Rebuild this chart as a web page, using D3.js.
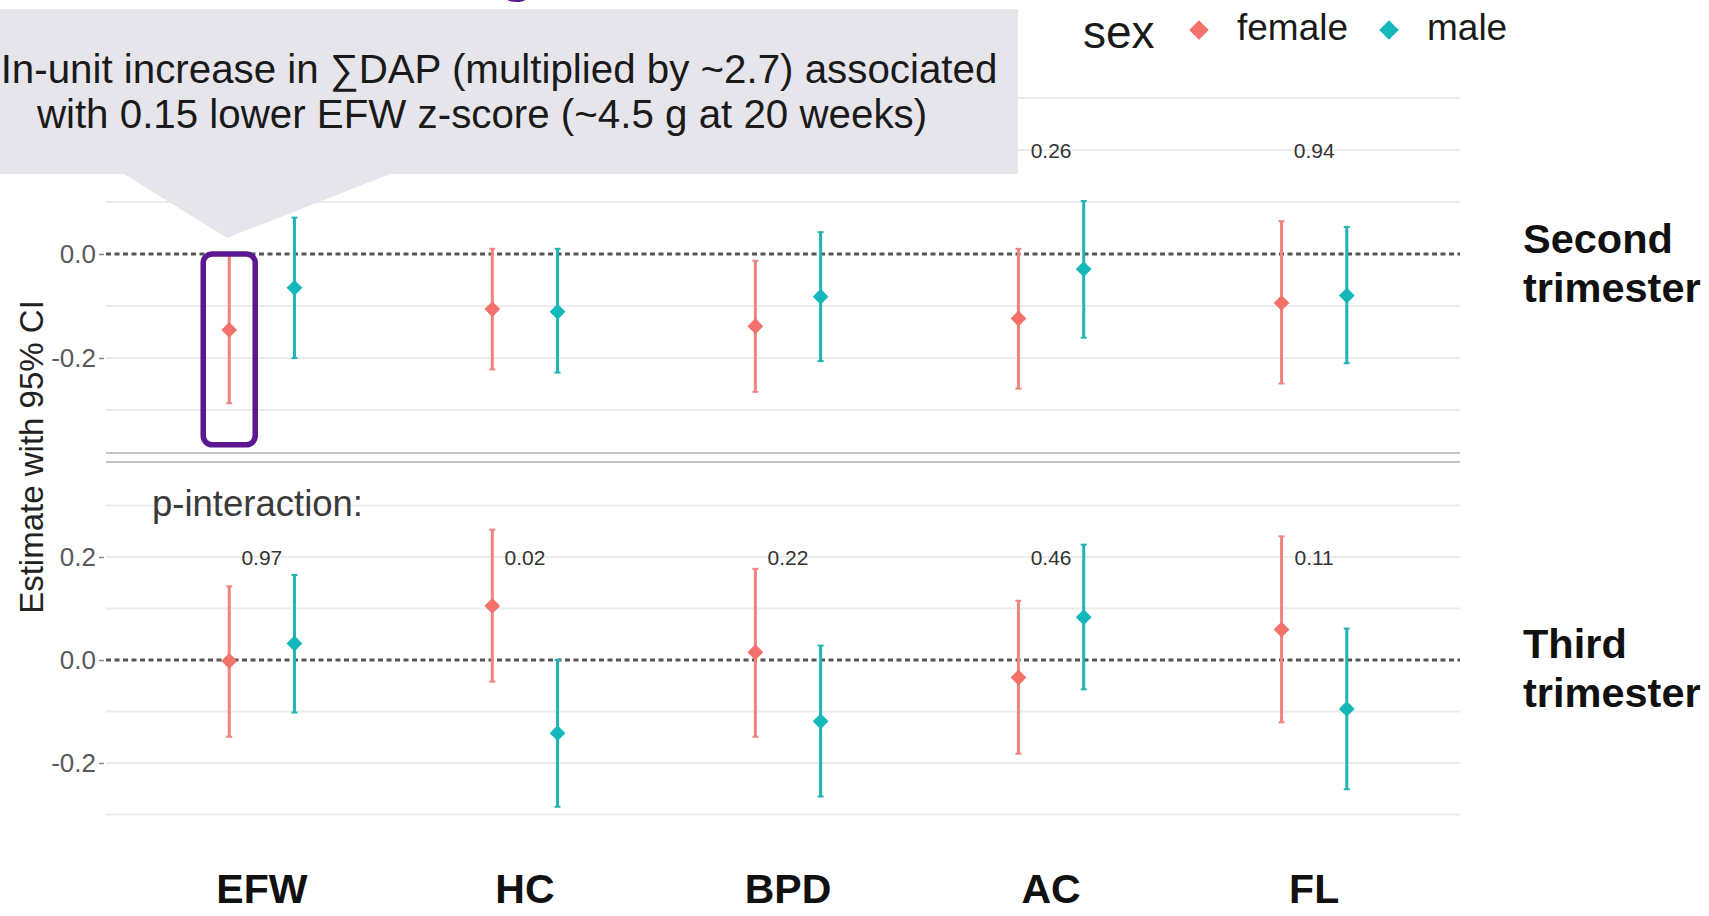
<!doctype html>
<html>
<head>
<meta charset="utf-8">
<title>Estimate with 95% CI by sex</title>
<style>
  body { margin:0; background:#fff; }
  svg { display:block; font-family: Arial, "Liberation Sans", sans-serif; }
  .grid line { stroke:#ececec; stroke-width:2px; }
  .yaxis text { font-size:26px; fill:#5a5a5a; }
  .yaxis line { stroke:#888; stroke-width:1.5px; }
  .yaxis path { display:none; }
</style>
<script src="https://cdn.jsdelivr.net/npm/d3@7"></script>
</head>
<body>
<svg id="chart" width="1709" height="916"></svg>
<script>
// data
var measures = ["EFW", "HC", "BPD", "AC", "FL"]
var sexes = ["female", "male"]
var sexColors = ["#f3716b", "#14b8ba"]
var lineColors = ["#f1837f", "#23b3b4"]

var secondFemaleEst  = [-0.146, -0.106, -0.139, -0.124, -0.094]
var secondFemaleLow  = [-0.287, -0.222, -0.265, -0.259, -0.249]
var secondFemaleHigh = [ 0.000,  0.010, -0.013,  0.010,  0.063]
var secondMaleEst    = [-0.065, -0.111, -0.082, -0.029, -0.080]
var secondMaleLow    = [-0.200, -0.228, -0.206, -0.161, -0.210]
var secondMaleHigh   = [ 0.070,  0.010,  0.042,  0.102,  0.052]

var thirdFemaleEst   = [-0.002,  0.105,  0.015, -0.034,  0.059]
var thirdFemaleLow   = [-0.149, -0.042, -0.149, -0.182, -0.121]
var thirdFemaleHigh  = [ 0.143,  0.253,  0.177,  0.115,  0.240]
var thirdMaleEst     = [ 0.032, -0.142, -0.119,  0.083, -0.095]
var thirdMaleLow     = [-0.102, -0.285, -0.265, -0.057, -0.251]
var thirdMaleHigh    = [ 0.165,  0.000,  0.028,  0.224,  0.061]

var secondP = [null, null, null, "0.26", "0.94"]
var thirdP  = ["0.97", "0.02", "0.22", "0.46", "0.11"]

var yTicks = [-0.2, 0.0, 0.2]
var gridValues = [-0.3, -0.2, -0.1, 0.1, 0.2, 0.3]

var svg = d3.select("#chart")

var x = d3.scalePoint().domain(measures).range([104, 1472]).padding(0.6)
var dodge = x.step() * 0.124

var panels = [
  { label: ["Second", "trimester"], labelY: [253, 302],
    y: d3.scaleLinear().domain([-0.3, 0.3]).range([410, 98]),
    est: [secondFemaleEst, secondMaleEst], low: [secondFemaleLow, secondMaleLow],
    high: [secondFemaleHigh, secondMaleHigh], p: secondP },
  { label: ["Third", "trimester"], labelY: [658, 707],
    y: d3.scaleLinear().domain([-0.3, 0.3]).range([814.5, 505.5]),
    est: [thirdFemaleEst, thirdMaleEst], low: [thirdFemaleLow, thirdMaleLow],
    high: [thirdFemaleHigh, thirdMaleHigh], p: thirdP }
]

panels.forEach(function(pn) {
  var y = pn.y
  var g = svg.append("g")

  // grid
  g.append("g").attr("class", "grid")
    .selectAll("line").data(gridValues).enter().append("line")
    .attr("x1", 106).attr("x2", 1460)
    .attr("y1", function(d) { return y(d) }).attr("y2", function(d) { return y(d) })

  // y axis
  g.append("g").attr("class", "yaxis")
    .attr("transform", "translate(104,0)")
    .call(d3.axisLeft(y).tickValues(yTicks).tickSize(5).tickPadding(3)
      .tickFormat(function(d) { return d.toFixed(1) }))

  // zero reference
  g.append("line")
    .attr("x1", 106).attr("x2", 1460)
    .attr("y1", y(0)).attr("y2", y(0))
    .style("stroke", "#555").style("stroke-width", 3)
    .style("stroke-dasharray", "5,3.5")

  // p-interaction values
  var pRows = measures.map(function(m, i) { return { m: m, p: pn.p[i] } })
    .filter(function(d) { return d.p != null })
  g.selectAll("text.pval").data(pRows).enter().append("text")
    .attr("x", function(d) { return x(d.m) })
    .attr("y", y(0.2)).attr("dy", "0.36em")
    .attr("text-anchor", "middle")
    .style("font-size", "21px").style("fill", "#333")
    .text(function(d) { return d.p })

  // error bars and points
  sexes.forEach(function(s, si) {
    var off = si == 0 ? -dodge : dodge
    var rows = measures.map(function(m, i) {
      return { m: m, est: pn.est[si][i], lo: pn.low[si][i], hi: pn.high[si][i] }
    })
    var sg = g.append("g")
    sg.selectAll("line.bar").data(rows).enter().append("line")
      .attr("x1", function(d) { return x(d.m) + off })
      .attr("x2", function(d) { return x(d.m) + off })
      .attr("y1", function(d) { return y(d.lo) })
      .attr("y2", function(d) { return y(d.hi) })
      .style("stroke", lineColors[si]).style("stroke-width", 3)
    ;["lo", "hi"].forEach(function(k) {
      sg.selectAll("line.cap" + k).data(rows).enter().append("line")
        .attr("x1", function(d) { return x(d.m) + off - 3 })
        .attr("x2", function(d) { return x(d.m) + off + 3 })
        .attr("y1", function(d) { return y(d[k]) })
        .attr("y2", function(d) { return y(d[k]) })
        .style("stroke", lineColors[si]).style("stroke-width", 2)
    })
    sg.selectAll("path.pt").data(rows).enter().append("path")
      .attr("d", d3.symbol(d3.symbolSquare, 125))
      .attr("transform", function(d) {
        return "translate(" + (x(d.m) + off) + "," + y(d.est) + ") rotate(45)" })
      .style("fill", sexColors[si])
  })

  // strip label
  g.selectAll("text.strip").data(pn.label).enter().append("text")
    .attr("x", 1523).attr("y", function(d, i) { return pn.labelY[i] })
    .style("font-size", "41.5px").style("font-weight", "bold").style("fill", "#111")
    .text(function(d) { return d })
})

// strip separator
svg.selectAll("line.sep").data([453, 462]).enter().append("line")
  .attr("x1", 106).attr("x2", 1460)
  .attr("y1", function(d) { return d }).attr("y2", function(d) { return d })
  .style("stroke", "#c4c4c4").style("stroke-width", 2)

// y title
svg.append("text")
  .attr("transform", "translate(43,457) rotate(-90)")
  .attr("text-anchor", "middle")
  .style("font-size", "33px").style("fill", "#222")
  .text("Estimate with 95% CI")

// x category labels
svg.selectAll("text.cat").data(measures).enter().append("text")
  .attr("x", function(d) { return x(d) }).attr("y", 903)
  .attr("text-anchor", "middle")
  .style("font-size", "41px").style("font-weight", "bold").style("fill", "#111")
  .text(function(d) { return d })

svg.append("text")
  .attr("x", 152).attr("y", 516)
  .style("font-size", "36.5px").style("fill", "#3a3a3a")
  .text("p-interaction:")

// legend
svg.append("text").attr("x", 1083).attr("y", 48)
  .style("font-size", "46px").style("fill", "#1a1a1a").text("sex")
var legX = [1199, 1389]
sexes.forEach(function(s, i) {
  svg.append("path")
    .attr("d", d3.symbol(d3.symbolSquare, 190))
    .attr("transform", "translate(" + legX[i] + ",30) rotate(45)")
    .style("fill", sexColors[i])
  svg.append("text").attr("x", legX[i] + 38).attr("y", 40)
    .style("font-size", "37px").style("fill", "#1a1a1a").text(s)
})

// highlight box round EFW female, second trimester
var yTop = panels[0].y
svg.append("rect")
  .attr("x", x("EFW") - dodge - 26).attr("y", yTop(0))
  .attr("width", 52).attr("height", yTop(-0.367) - yTop(0))
  .attr("rx", 9)
  .style("fill", "none").style("stroke", "#5b1690").style("stroke-width", 5.5)

// cut-off title glyph at the top edge
svg.append("text").attr("x", 517).attr("y", -10)
  .attr("text-anchor", "middle")
  .style("font-size", "60px").style("font-weight", "bold").style("fill", "#5b1690")
  .text("g")

// callout
svg.append("path")
  .attr("d", "M0,9 H1018 V174 H390 L227,238 L124,174 H0 Z")
  .style("fill", "#e7e5ec")
svg.append("text").attr("x", 499).attr("y", 83)
  .attr("text-anchor", "middle")
  .style("font-size", "40.3px").style("fill", "#1a1a1a")
  .text("In-unit increase in \u2211DAP (multiplied by ~2.7) associated")
svg.append("text").attr("x", 482).attr("y", 128)
  .attr("text-anchor", "middle")
  .style("font-size", "40.3px").style("fill", "#1a1a1a")
  .text("with 0.15 lower EFW z-score (~4.5 g at 20 weeks)")
</script>
</body>
</html>
